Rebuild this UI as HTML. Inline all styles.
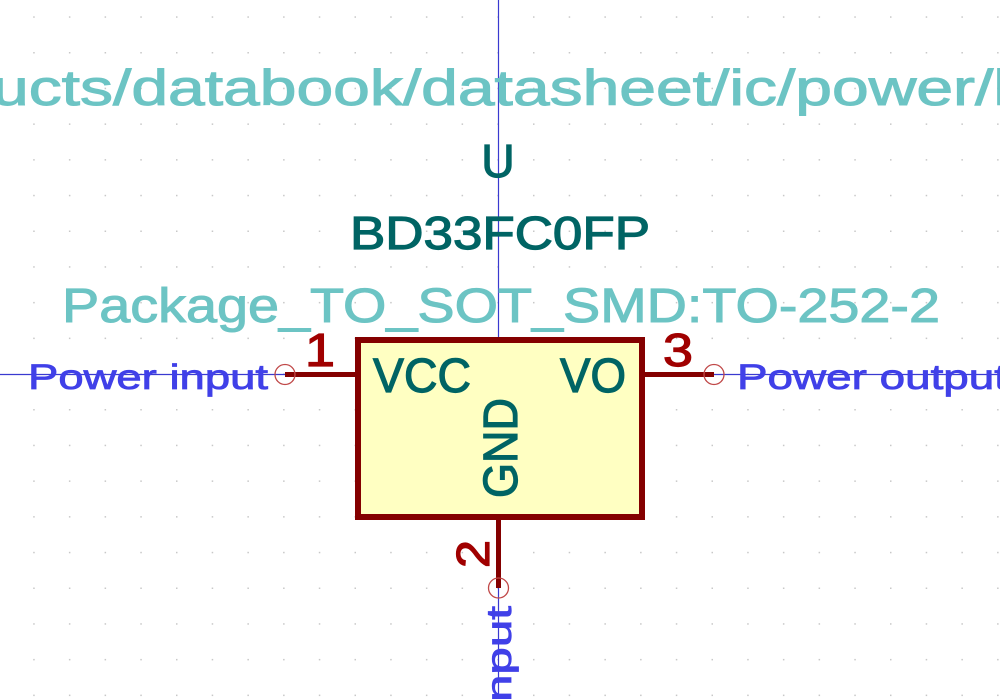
<!DOCTYPE html>
<html><head><style>body{margin:0;background:#fff}svg{display:block}</style></head><body>
<svg width="1000" height="699" xmlns="http://www.w3.org/2000/svg" font-family="Liberation Sans, DejaVu Sans, sans-serif">
<rect width="1000" height="699" fill="#fff"/>
<g id="dots"></g>
<line x1="498.5" y1="0" x2="498.5" y2="699" stroke="#3a3ad0" stroke-width="1.2"/>
<line x1="0" y1="374.5" x2="1000" y2="374.5" stroke="#3a3ad0" stroke-width="1.2"/>
<text x="-8" y="105" font-size="50" fill="#6cc4c4" stroke="#6cc4c4" stroke-width="1" textLength="1016" lengthAdjust="spacingAndGlyphs">ucts/databook/datasheet/ic/power/l</text>
<text x="498" y="177" font-size="46" fill="#006464" stroke="#006464" stroke-width="1.2" text-anchor="middle">U</text>
<text x="350" y="249" font-size="46" fill="#006464" stroke="#006464" stroke-width="1.2" textLength="300" lengthAdjust="spacingAndGlyphs">BD33FC0FP</text>
<text x="62" y="322" font-size="48" fill="#6cc4c4" stroke="#6cc4c4" stroke-width="1" textLength="878" lengthAdjust="spacingAndGlyphs">Package_TO_SOT_SMD:TO-252-2</text>
<rect x="358" y="340" width="284" height="177" fill="#ffffc2" stroke="#840000" stroke-width="6"/>
<line x1="285" y1="374.5" x2="356" y2="374.5" stroke="#840000" stroke-width="5"/>
<line x1="644" y1="374.5" x2="714" y2="374.5" stroke="#840000" stroke-width="5"/>
<line x1="498.5" y1="519" x2="498.5" y2="588" stroke="#840000" stroke-width="5"/>
<g fill="none" stroke="#c04848" stroke-width="1.3">
<circle cx="285" cy="374.5" r="10"/><circle cx="714" cy="374.5" r="10"/><circle cx="498.5" cy="588" r="10"/></g>
<text x="28" y="389" font-size="35" fill="#4040e8" stroke="#4040e8" stroke-width="0.8" textLength="240" lengthAdjust="spacingAndGlyphs">Power input</text>
<text x="737" y="389" font-size="35" fill="#4040e8" stroke="#4040e8" stroke-width="0.8" textLength="270" lengthAdjust="spacingAndGlyphs">Power output</text>
<text x="305" y="366" font-size="46" fill="#a00000" stroke="#a00000" stroke-width="1.2" textLength="30" lengthAdjust="spacingAndGlyphs">1</text>
<text x="663" y="366" font-size="46" fill="#a00000" stroke="#a00000" stroke-width="1.2" textLength="30" lengthAdjust="spacingAndGlyphs">3</text>
<text transform="translate(489,568) rotate(-90)" font-size="46" fill="#a00000" stroke="#a00000" stroke-width="1.2" textLength="28" lengthAdjust="spacingAndGlyphs">2</text>
<text x="373" y="392" font-size="48" fill="#006464" stroke="#006464" stroke-width="1.2" textLength="98" lengthAdjust="spacingAndGlyphs">VCC</text>
<text x="560" y="392" font-size="48" fill="#006464" stroke="#006464" stroke-width="1.2" textLength="66" lengthAdjust="spacingAndGlyphs">VO</text>
<text transform="translate(517,498) rotate(-90)" font-size="48" fill="#006464" stroke="#006464" stroke-width="1.2" textLength="100" lengthAdjust="spacingAndGlyphs">GND</text>
<text transform="translate(511,702) rotate(-90)" font-size="35" fill="#4040e8" stroke="#4040e8" stroke-width="0.8" textLength="96" lengthAdjust="spacingAndGlyphs">nput</text>
</svg>
<script>
var s=document.getElementById('dots'),h='';
for(var x=498-35.7*14;x<1000;x+=35.7)for(var y=374-35.7*11;y<699;y+=35.7)if(x>0&&y>0)h+='<rect x="'+(x-0.7).toFixed(1)+'" y="'+(y-0.7).toFixed(1)+'" width="1.5" height="1.5" fill="#c8c8c8"/>';
s.innerHTML=h;
</script>
</body></html>
